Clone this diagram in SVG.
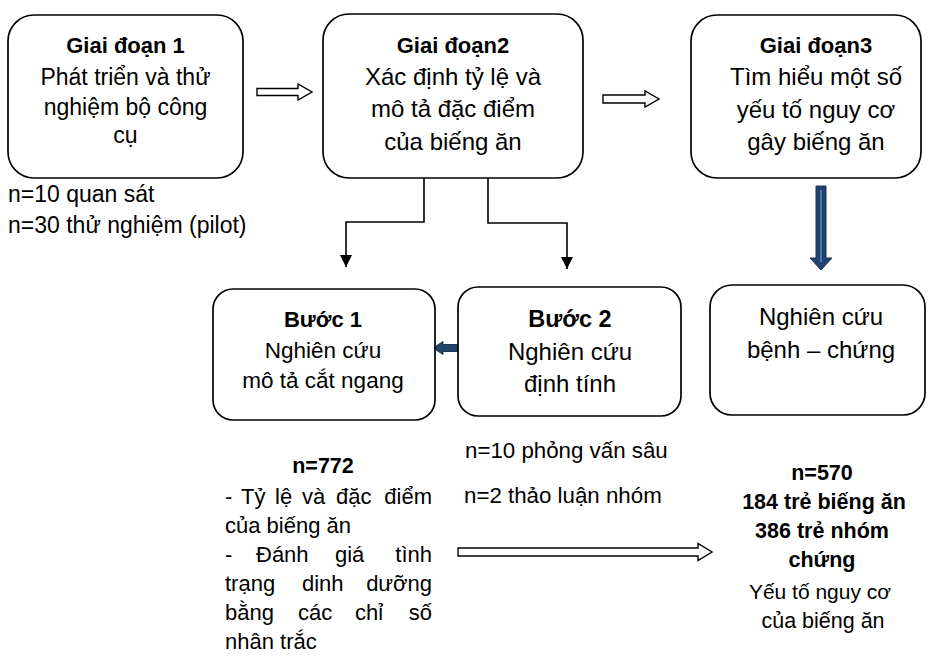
<svg xmlns="http://www.w3.org/2000/svg" width="930" height="660" viewBox="0 0 930 660">
<style>
text{font-family:"Liberation Sans",Arial,sans-serif;fill:#000}
.c{text-anchor:middle}
.e{text-anchor:end}
.b{font-weight:bold}
.box{fill:#fff;stroke:#000;stroke-width:1.7}
.conn{fill:none;stroke:#000;stroke-width:1.6}
.hol{fill:#fff;stroke:#000;stroke-width:1.4;stroke-linejoin:miter}
.blue{fill:#21436b;stroke:#1a3556;stroke-width:1}
.core{stroke:#5b8bc7;stroke-width:1.5;fill:none}
</style>
<defs>
<marker id="tri" markerUnits="userSpaceOnUse" markerWidth="14" markerHeight="14" refX="12" refY="6" orient="auto">
<path d="M0,0 L12,6 L0,12 z" fill="#000"/>
</marker>
</defs>

<g id="connectors">
<path class="conn" d="M424,178 V222 H346 V267" marker-end="url(#tri)"/>
<path class="conn" d="M488,178 V223 H567 V269" marker-end="url(#tri)"/>
<polygon class="hol" points="257,88.5 298,88.5 298,84 312,92 298,100 298,95.5 257,95.5"/>
<polygon class="hol" points="603,95 645,95 645,91 659,99 645,107 645,103 603,103"/>
<polygon class="hol" points="458,548 698,548 698,543.5 712,552 698,560.5 698,556 458,556"/>
<polygon class="blue" points="816,186 826,186 826,258 832,258 821,270 810,258 816,258"/>
<line class="core" x1="821" y1="190" x2="821" y2="262"/>
<polygon class="blue" points="461,344.5 443,344.5 443,341.5 433,348 443,354.5 443,351.5 461,351.5"/>
</g>

<g id="giai-doan-1">
<rect class="box" x="8" y="15" width="235" height="163" rx="26"/>
<text class="c b" x="125.5" y="53" font-size="22">Giai đoạn 1</text>
<text class="c" x="125.5" y="85" font-size="23">Phát triển và thử</text>
<text class="c" x="125.5" y="115" font-size="23">nghiệm bộ công</text>
<text class="c" x="125.5" y="143" font-size="23">cụ</text>
</g>

<g id="giai-doan-2">
<rect class="box" x="323" y="14" width="260" height="164" rx="26"/>
<text class="c b" x="453" y="53" font-size="22">Giai đoạn2</text>
<text class="c" x="453" y="85" font-size="24">Xác định tỷ lệ và</text>
<text class="c" x="453" y="117" font-size="24">mô tả đặc điểm</text>
<text class="c" x="453" y="150" font-size="24">của biếng ăn</text>
</g>

<g id="giai-doan-3">
<rect class="box" x="691" y="15" width="230" height="163" rx="26"/>
<text class="c b" x="816" y="53" font-size="22">Giai đoạn3</text>
<text class="c" x="816" y="85" font-size="24">Tìm hiểu một số</text>
<text class="c" x="816" y="118" font-size="24">yếu tố nguy cơ</text>
<text class="c" x="816" y="150" font-size="24">gây biếng ăn</text>
</g>

<g id="note-gd1">
<text x="8" y="202" font-size="23">n=10 quan sát</text>
<text x="8" y="233" font-size="23">n=30 thử nghiệm (pilot)</text>
</g>

<g id="buoc-1">
<rect class="box" x="213" y="289" width="222" height="131" rx="20"/>
<text class="c b" x="323" y="327" font-size="22">Bước 1</text>
<text class="c" x="323" y="358" font-size="22.5">Nghiên cứu</text>
<text class="c" x="323" y="388" font-size="22.5">mô tả cắt ngang</text>
</g>

<g id="buoc-2">
<rect class="box" x="458" y="287" width="223" height="129" rx="20"/>
<text class="c b" x="570" y="327" font-size="23.5">Bước 2</text>
<text class="c" x="570" y="360" font-size="24">Nghiên cứu</text>
<text class="c" x="570" y="392" font-size="24">định tính</text>
</g>

<g id="benh-chung">
<rect class="box" x="710" y="285" width="215" height="130" rx="22"/>
<text class="c" x="821" y="325" font-size="24">Nghiên cứu</text>
<text class="c" x="821" y="358" font-size="24">bệnh – chứng</text>
</g>

<g id="note-buoc-1">
<text class="c b" x="323" y="473" font-size="21.5">n=772</text>
<text font-size="22" y="504"><tspan x="225">-</tspan><tspan x="241">Tỷ</tspan><tspan x="275">lệ</tspan><tspan x="302">và</tspan><tspan x="336">đặc</tspan></text>
<text class="e" x="432" y="504" font-size="22">điểm</text>
<text x="225" y="533" font-size="22">của biếng ăn</text>
<text font-size="22" y="562"><tspan x="225">-</tspan><tspan x="256">Đánh</tspan><tspan x="335">giá</tspan></text>
<text class="e" x="432" y="562" font-size="22">tình</text>
<text font-size="22" y="591"><tspan x="225">trạng</tspan><tspan x="302">dinh</tspan></text>
<text class="e" x="432" y="591" font-size="22">dưỡng</text>
<text font-size="22" y="620"><tspan x="225">bằng</tspan><tspan x="298">các</tspan><tspan x="355">chỉ</tspan></text>
<text class="e" x="432" y="620" font-size="22">số</text>
<text x="225" y="649" font-size="22">nhân trắc</text>
</g>

<g id="note-buoc-2">
<text x="465" y="458" font-size="22.3">n=10 phỏng vấn sâu</text>
<text x="464" y="503" font-size="22.3">n=2 thảo luận nhóm</text>
</g>

<g id="note-benh-chung">
<text class="c b" x="822" y="480" font-size="21.5">n=570</text>
<text class="c b" x="824" y="509" font-size="21.5">184 trẻ biếng ăn</text>
<text class="c b" x="822" y="538" font-size="21.5">386 trẻ nhóm</text>
<text class="c b" x="822" y="567" font-size="21.5">chứng</text>
<text class="c" x="820" y="599" font-size="21">Yếu tố nguy cơ</text>
<text class="c" x="823" y="628" font-size="21.5">của biếng ăn</text>
</g>
</svg>
